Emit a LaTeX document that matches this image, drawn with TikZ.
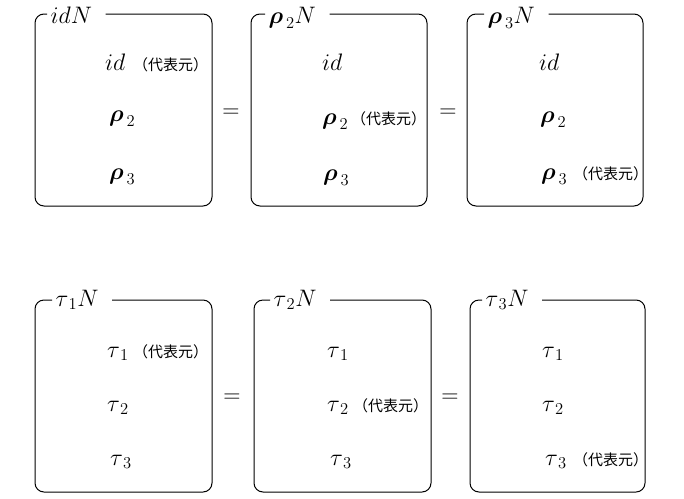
\documentclass[tikz,border=0pt]{standalone}
\usepackage{amsmath}
\usepackage{fontspec}
\newfontfamily\cjk{Noto Sans CJK JP}
\newcommand{\daihyo}{{\cjk\fontsize{15}{17}\selectfont （代表元）}}
\tikzset{
  frame/.style={draw, line width=1pt, rounded corners=9pt},
}
\begin{document}
\begin{tikzpicture}[x=1pt,y=-1pt]
\useasboundingbox (0,0) rectangle (684,498);

      % corners of the six cosets
      \coordinate (a1) at (35,14);   \coordinate (b1) at (212,206);
      \coordinate (a2) at (251,14);  \coordinate (b2) at (427,206);
      \coordinate (a3) at (467,14);  \coordinate (b3) at (643,206);
      \coordinate (a4) at (35,300);  \coordinate (b4) at (212,492);
      \coordinate (a5) at (254,300); \coordinate (b5) at (431,492);
      \coordinate (a6) at (470,300); \coordinate (b6) at (645,492);

      \begin{scope}[every node/.style={anchor=base west,inner sep=3pt,font=\huge,scale=1.15}]
        \node (t1) at (47,23)  {$idN$};
        \node (t2) at (265,23) {$\boldsymbol{\rho}_{\,2}N$};
        \node (t3) at (484,23) {$\boldsymbol{\rho}_{\,3}N$};
        \node (t4) at (52,306)  {$\tau_{\,1}N$};
        \node (t5) at (270,306) {$\tau_{\,2}N$};
        \node (t6) at (482,306) {$\tau_{\,3}N$};
      \end{scope}

      \begin{scope}[every node/.style={anchor=base west,inner sep=0pt,font=\huge,scale=1.15}]
        \node (e11) at (105,70)  {$id$};
        \node (e12) at (109,121) {$\boldsymbol{\rho}_{\,2}$};
        \node (e13) at (109,179) {$\boldsymbol{\rho}_{\,3}$};
        \node (e21) at (322,70)  {$id$};
        \node (e22) at (322,124) {$\boldsymbol{\rho}_{\,2}$};
        \node (e23) at (323,180) {$\boldsymbol{\rho}_{\,3}$};
        \node (e31) at (539,70)  {$id$};
        \node (e32) at (540,122) {$\boldsymbol{\rho}_{\,2}$};
        \node (e33) at (541,179) {$\boldsymbol{\rho}_{\,3}$};
        \node (e41) at (107,357) {$\tau_{\,1}$};
        \node (e42) at (107,411) {$\tau_{\,2}$};
        \node (e43) at (110,465) {$\tau_{\,3}$};
        \node (e51) at (327,357) {$\tau_{\,1}$};
        \node (e52) at (327,411) {$\tau_{\,2}$};
        \node (e53) at (330,465) {$\tau_{\,3}$};
        \node (e61) at (542,357) {$\tau_{\,1}$};
        \node (e62) at (542,411) {$\tau_{\,2}$};
        \node (e63) at (545,465) {$\tau_{\,3}$};
      \end{scope}

      \begin{scope}[every node/.style={anchor=base west,inner sep=0pt}]
        \node (r1) at (133,70)  {\daihyo};
        \node (r2) at (351,124) {\daihyo};
        \node (r3) at (573,179) {\daihyo};
        \node (r4) at (133,357) {\daihyo};
        \node (r5) at (353,411) {\daihyo};
        \node (r6) at (573,465) {\daihyo};
      \end{scope}

      \begin{scope}[every node/.style={font=\huge,scale=1.15}]
        \node (eq1) at (231,113) {$=$};
        \node (eq2) at (448,113) {$=$};
        \node (eq3) at (232,398) {$=$};
        \node (eq4) at (450,398) {$=$};
      \end{scope}

      \draw[frame] (t1.east |- a1) ++(10,0) -- (b1 |- a1) -- (b1) -- (a1 |- b1) -- (a1) -- (t1.west |- a1);
      \draw[frame] (t2.east |- a2) ++(10,0) -- (b2 |- a2) -- (b2) -- (a2 |- b2) -- (a2) -- (t2.west |- a2);
      \draw[frame] (t3.east |- a3) ++(10,0) -- (b3 |- a3) -- (b3) -- (a3 |- b3) -- (a3) -- (t3.west |- a3);
      \draw[frame] (t4.east |- a4) ++(10,0) -- (b4 |- a4) -- (b4) -- (a4 |- b4) -- (a4) -- (t4.west |- a4);
      \draw[frame] (t5.east |- a5) ++(10,0) -- (b5 |- a5) -- (b5) -- (a5 |- b5) -- (a5) -- (t5.west |- a5);
      \draw[frame] (t6.east |- a6) ++(10,0) -- (b6 |- a6) -- (b6) -- (a6 |- b6) -- (a6) -- (t6.west |- a6);

    \end{tikzpicture}
\end{document}
